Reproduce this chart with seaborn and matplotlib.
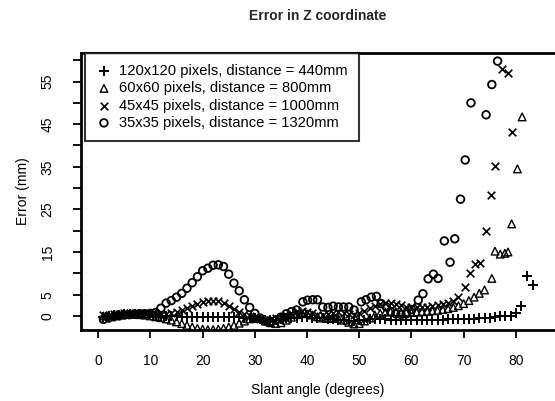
import matplotlib
matplotlib.use("Agg")
import matplotlib.pyplot as plt
import pandas as pd
import seaborn as sns

# 120x120 pixels, distance = 440mm
angle_120 = [1, 2, 3, 4, 5, 6, 7, 8, 9, 10, 11, 12, 13, 14, 15, 16, 17, 18, 19, 20,
             21, 22, 23, 24, 25, 26, 27, 28, 29, 30, 31, 32, 33, 34, 35, 36, 37, 38, 39, 40,
             41, 42, 43, 44, 45, 46, 47, 48, 49, 50, 51, 52, 53, 54, 55, 56, 57, 58, 59, 60,
             61, 62, 63, 64, 65, 66, 67, 68, 69, 70, 71, 72, 73, 74, 75, 76, 77, 78, 79, 80,
             81, 82.2, 83.2]
err_120 = [-0.3, 0.0, 0.2, 0.3, 0.4, 0.5, 0.5, 0.5, 0.4, 0.3, 0.2, 0.1, 0.0, -0.1, -0.1, -0.2, -0.2, -0.2, -0.2, -0.2,
           -0.2, -0.2, -0.2, -0.2, -0.3, -0.3, -0.3, -0.4, -0.5, -0.6, -0.8, -1.0, -1.0, -0.9, -0.8, -0.6, -0.5, -0.4, -0.3, -0.3,
           -0.4, -0.5, -0.6, -0.7, -0.8, -0.9, -1.0, -1.1, -1.1, -1.0, -0.9, -0.8, -0.8, -0.8, -0.8, -0.9, -0.9, -0.9, -0.9, -0.9,
           -0.9, -0.9, -0.9, -0.9, -0.9, -0.9, -0.8, -0.8, -0.8, -0.8, -0.7, -0.7, -0.6, -0.5, -0.4, -0.3, -0.1, 0.0, 0.1, 0.6,
           2.4, 9.4, 7.2]

# 60x60 pixels, distance = 800mm
angle_60 = [1, 2, 3, 4, 5, 6, 7, 8, 9, 10, 11, 12, 13, 14, 15, 16, 17, 18, 19, 20,
            21, 22, 23, 24, 25, 26, 27, 28, 29, 30, 31, 32, 33, 34, 35, 36, 37, 38, 39, 40,
            41, 42, 43, 44, 45, 46, 47, 48, 49, 50, 51, 52, 53, 54, 55, 56, 57, 58, 59, 60,
            61, 62, 63, 64, 65, 66, 67, 68, 69, 70, 71, 72, 73, 74, 75.4, 76, 77, 77.9, 78.5, 79.2,
            80.3, 81.2]
err_60 = [0.0, 0.1, 0.2, 0.3, 0.4, 0.4, 0.4, 0.3, 0.2, 0.0, -0.2, -0.4, -0.7, -1.0, -1.4, -1.8, -2.2, -2.6, -2.9, -3.1,
          -3.2, -3.2, -3.1, -2.9, -2.6, -2.2, -1.7, -1.2, -0.7, -0.4, -0.6, -1.2, -1.6, -1.8, -1.6, -1.0, -0.3, 0.3, 0.6, 0.5,
          0.2, -0.2, -0.5, -0.6, -0.5, -0.6, -1.0, -1.5, -1.9, -1.8, -1.2, -0.5, 0.2, 0.6, 0.9, 1.0, 1.0, 0.9, 0.8, 0.8,
          0.9, 1.0, 1.1, 1.2, 1.3, 1.5, 1.7, 2.0, 2.4, 2.9, 3.6, 4.4, 5.3, 6.1, 8.8, 15.2, 14.5, 14.7, 15.0, 21.6,
          34.5, 46.7]

# 45x45 pixels, distance = 1000mm
angle_45 = [1, 2, 3, 4, 5, 6, 7, 8, 9, 10, 11, 12, 13, 14, 15, 16, 17, 18, 19, 20,
            21, 22, 23, 24, 25, 26, 27, 28, 29, 30, 31, 32, 33, 34, 35, 36, 37, 38, 39, 40,
            41, 42, 43, 44, 45, 46, 47, 48, 49, 50, 51, 52, 53, 54, 55, 56, 57, 58, 59, 60,
            61, 62, 63, 64, 65, 66, 67, 68, 69, 70.2, 71.2, 72.1, 73.1, 74.2, 75.2, 76.0, 77.4, 78.5, 79.2]
err_45 = [0.2, 0.3, 0.4, 0.5, 0.6, 0.7, 0.7, 0.7, 0.6, 0.5, 0.4, 0.4, 0.5, 0.7, 1.0, 1.4, 1.9, 2.4, 2.9, 3.3,
          3.5, 3.6, 3.4, 3.0, 2.4, 1.7, 1.0, 0.4, -0.1, -0.5, -0.8, -1.0, -0.9, -0.6, -0.2, 0.3, 0.8, 1.1, 1.2, 1.0,
          0.6, 0.3, 0.3, 0.5, 0.8, 0.9, 0.7, 0.4, 0.3, 0.6, 1.2, 1.8, 2.3, 2.7, 3.0, 3.0, 2.8, 2.5, 2.2, 2.0,
          2.0, 2.1, 2.2, 2.3, 2.5, 2.7, 3.0, 3.5, 4.5, 6.9, 10.0, 12.3, 12.4, 20.0, 28.4, 35.2, 58.0, 57.0, 43.2]

# 35x35 pixels, distance = 1320mm
angle_35 = [1, 2, 3, 4, 5, 6, 7, 8, 9, 10, 11, 12, 13, 14, 15, 16, 17, 18, 19, 20,
            21, 22, 23, 24, 25, 26, 27, 28, 29, 30, 31, 32, 33, 34, 35, 36, 37, 38, 39.2, 40.1,
            41.1, 42, 43, 44, 45, 46, 47, 48, 49, 50.4, 51.3, 52.3, 53.3, 54.2, 55.2, 56, 57, 58, 59, 60,
            61.3, 62.2, 63.2, 64.2, 65.1, 66.3, 67.4, 68.3, 69.4, 70.3, 71.4, 74.3, 75.4, 76.5]
err_35 = [-0.8, -0.5, -0.2, 0.0, 0.2, 0.3, 0.4, 0.5, 0.5, 0.6, 0.8, 1.8, 3.0, 3.6, 4.4, 5.3, 6.5, 7.8, 9.2, 10.6,
          11.2, 11.9, 12.0, 11.6, 9.8, 7.7, 5.9, 3.8, 2.0, 0.6, -0.5, -1.2, -1.3, -1.0, -0.3, 0.5, 1.0, 1.4, 3.3, 3.7,
          3.8, 3.8, 2.1, 2.0, 2.3, 2.1, 2.1, 2.1, 1.4, 3.3, 3.8, 4.4, 4.6, 2.9, 2.1, 1.0, 0.5, 0.3, 0.5, 1.5,
          3.7, 5.2, 8.7, 9.8, 8.8, 17.6, 12.6, 18.1, 27.4, 36.6, 50.0, 47.2, 54.3, 59.8]

labels = [
    "120x120 pixels, distance = 440mm",
    "60x60 pixels, distance = 800mm",
    "45x45 pixels, distance = 1000mm",
    "35x35 pixels, distance = 1320mm",
]
y_ticks = [0, 5, 10, 15, 20, 25, 30, 35, 40, 45, 50, 55, 60]
y_ticklabels = ["0", "5", "", "15", "", "25", "", "35", "", "45", "", "55", ""]
x_ticks = [0, 10, 20, 30, 40, 50, 60, 70, 80]

sns.set_theme(style="white")
plt.rcParams["font.family"] = ["Liberation Sans", "DejaVu Sans"]

fig = plt.figure(figsize=(5.55, 4.01), dpi=100)
ax = fig.add_axes([81 / 555, 1 - 330 / 401, 474 / 555, 277 / 401])

series = [
    (angle_120, err_120, dict(marker="+", s=60, linewidth=1.4, color="black")),
    (angle_60, err_60, dict(marker="^", s=30, linewidth=1.0, facecolor="none", edgecolor="black")),
    (angle_45, err_45, dict(marker="x", s=30, linewidth=1.2, color="black")),
    (angle_35, err_35, dict(marker="o", s=30, linewidth=1.3, facecolor="none", edgecolor="black")),
]
for (xs, ys, kw), lab in zip(series, labels):
    df = pd.DataFrame({"angle": xs, "error": ys})
    sns.scatterplot(data=df, x="angle", y="error", ax=ax, label=lab, **kw)

ax.set_xlim(-3.3, 87.5)
ax.set_ylim(-3.3, 61.7)
ax.set_xticks(x_ticks)
ax.set_yticks(y_ticks)
ax.set_yticklabels(y_ticklabels, rotation=90, va="center")
ax.tick_params(axis="both", direction="out", length=6, width=1.3, color="black",
               labelsize=10, labelcolor="black", left=True, bottom=True)
ax.tick_params(axis="y", pad=13)
ax.tick_params(axis="x", pad=11)
for side in ["left", "bottom", "top"]:
    ax.spines[side].set_linewidth(2)
    ax.spines[side].set_color("black")
ax.spines["right"].set_visible(False)

ax.set_xlabel("Slant angle (degrees)", fontsize=10, color="black", labelpad=11)
ax.set_ylabel("Error (mm)", fontsize=10, color="black", labelpad=8)
fig.suptitle("Error in Z coordinate", fontsize=10, fontweight="bold", x=318 / 555, y=0.977)

leg = ax.legend(loc="upper left", bbox_to_anchor=(0.008, 1.0), borderaxespad=0,
                fancybox=False, frameon=True, fontsize=10.6, handletextpad=0.5,
                handlelength=1.1, labelspacing=0.22, borderpad=0.75)
leg.get_frame().set_edgecolor("black")
leg.get_frame().set_linewidth(1.5)
for t in leg.get_texts():
    t.set_color("black")

fig.savefig("out.png", dpi=100)
